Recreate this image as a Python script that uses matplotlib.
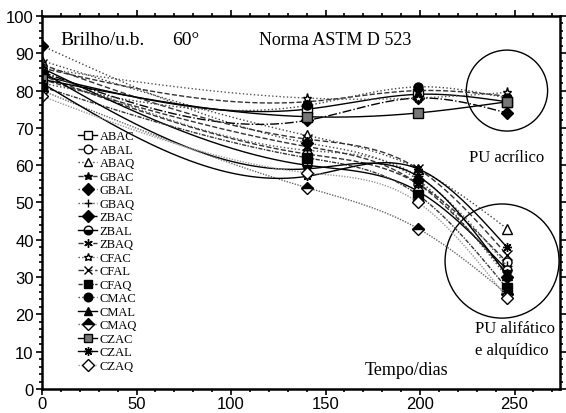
import numpy as np
import matplotlib
matplotlib.use("Agg")
import matplotlib.pyplot as plt
from matplotlib.patches import Ellipse
from matplotlib.ticker import MultipleLocator

# exposure time (days)
days = [0, 140, 199, 246]

# gloss readings (u.b. at 60 deg), one list per coating
ABAC = [84, 75, 79, 77]
ABAL = [84, 63, 55, 34]
ABAQ = [88, 68, 59, 43]
GBAC = [86, 77, 80, 78.5]
GBAL = [92, 66, 56, 30]
GBAQ = [85, 64, 57, 33]
ZBAC = [85, 72, 78, 74]
ZBAL = [86, 60, 53, 32]
ZBAQ = [83, 65, 55, 31]
CFAC = [86, 78, 78, 79.5]
CFAL = [87, 67, 59, 36]
CFAQ = [81, 62, 52, 27]
CMAC = [82, 76, 81, 78]
CMAL = [85, 59, 57, 30.5]
CMAQ = [80, 54, 43, 25.5]
CZAC = [83, 73, 74, 77]
CZAL = [82, 57, 59, 38]
CZAQ = [78.5, 58, 50, 24.5]

names = ["ABAC", "ABAL", "ABAQ", "GBAC", "GBAL", "GBAQ", "ZBAC", "ZBAL", "ZBAQ",
         "CFAC", "CFAL", "CFAQ", "CMAC", "CMAL", "CMAQ", "CZAC", "CZAL", "CZAQ"]
values = [ABAC, ABAL, ABAQ, GBAC, GBAL, GBAQ, ZBAC, ZBAL, ZBAQ,
          CFAC, CFAL, CFAQ, CMAC, CMAL, CMAQ, CZAC, CZAL, CZAQ]

# (linestyle, marker, facecolor, fillstyle, line colour)
styles = [
    ("-", "s", "white", "full", "black"),
    ("--", "o", "white", "full", "#333333"),
    (":", "^", "white", "full", "#444444"),
    ("--", "*", "black", "full", "#333333"),
    (":", "D", "black", "full", "#444444"),
    (":", "+", "black", "full", "#555555"),
    ("-.", "D", "black", "full", "black"),
    ("-", "o", "black", "bottom", "black"),
    ("--", (6, 2, 0), "black", "full", "#333333"),
    (":", "*", "white", "full", "#555555"),
    ((0, (4, 2)), "x", "black", "full", "#333333"),
    ((0, (3, 1, 1, 1)), "s", "black", "full", "#333333"),
    (":", "o", "black", "full", "#444444"),
    ("-", "^", "black", "full", "black"),
    ((0, (1, 1)), "D", "black", "top", "#666666"),
    ("-", "s", "#777777", "full", "black"),
    ("-", (8, 2, 0), "black", "full", "black"),
    ((0, (1, 1)), "D", "white", "full", "#999999"),
]


def natural_spline(x, y, xs):
    # natural cubic spline through the points, like the original software draws
    x = np.asarray(x, float)
    y = np.asarray(y, float)
    n = len(x)
    h = np.diff(x)
    A = np.zeros((n, n))
    r = np.zeros(n)
    A[0, 0] = A[-1, -1] = 1
    for i in range(1, n - 1):
        A[i, i - 1] = h[i - 1]
        A[i, i] = 2 * (h[i - 1] + h[i])
        A[i, i + 1] = h[i]
        r[i] = 6 * ((y[i + 1] - y[i]) / h[i] - (y[i] - y[i - 1]) / h[i - 1])
    m = np.linalg.solve(A, r)
    k = np.clip(np.searchsorted(x, xs) - 1, 0, n - 2)
    t0 = x[k + 1] - xs
    t1 = xs - x[k]
    hk = h[k]
    return (m[k] * t0 ** 3 / (6 * hk) + m[k + 1] * t1 ** 3 / (6 * hk)
            + (y[k] / hk - m[k] * hk / 6) * t0 + (y[k + 1] / hk - m[k + 1] * hk / 6) * t1)


plt.rcParams["font.family"] = ["Liberation Serif", "DejaVu Serif"]

fig = plt.figure(figsize=(5.66, 4.14), dpi=100)
ax = fig.add_axes([0.0742, 0.058, 0.915, 0.901])

xs = np.linspace(0, 246, 250)
for name, v, st in zip(names, values, styles):
    ls, mk, fc, fs, col = st
    ax.plot(xs, natural_spline(days, v, xs), ls=ls, color=col, lw=1.0)
    ax.plot(days, v, ls="none", marker=mk, ms=6.5, mfc=fc, mec="black",
            mew=1.0, fillstyle=fs, markerfacecoloralt="white", color="black")
    ax.plot([], [], ls=ls, color=col, lw=1.0, marker=mk, ms=6.5, mfc=fc,
            mec="black", fillstyle=fs, markerfacecoloralt="white", label=name)

ax.add_patch(Ellipse((246, 80), 43, 21.7, fill=False, lw=1.0, color="black"))
ax.add_patch(Ellipse((243.4, 34.3), 60.3, 30.6, fill=False, lw=1.0, color="black"))

ax.text(9.5, 93.8, "Brilho/u.b.", fontsize=14, va="center")
ax.text(69, 93.8, "60°", fontsize=14, va="center")
ax.text(155, 93.8, "Norma ASTM D 523", fontsize=13, va="center", ha="center")
ax.text(246, 62.2, "PU acrílico", fontsize=12, va="center", ha="center")
ax.text(229, 16.4, "PU alifático", fontsize=12, va="center", ha="left")
ax.text(229, 10.4, "e alquídico", fontsize=12, va="center", ha="left")
ax.text(193, 5.2, "Tempo/dias", fontsize=13, va="center", ha="center")

ax.set_xlim(0, 274)
ax.set_ylim(0, 100)
ax.xaxis.set_major_locator(MultipleLocator(50))
ax.xaxis.set_minor_locator(MultipleLocator(10))
ax.yaxis.set_major_locator(MultipleLocator(10))
ax.yaxis.set_minor_locator(MultipleLocator(2))
for s in ax.spines.values():
    s.set_linewidth(1.8)
ax.tick_params(which="both", direction="out", top=True, right=True, width=1.2)
ax.tick_params(which="major", length=4)
ax.tick_params(which="minor", length=2.5)
ax.tick_params(axis="x", pad=1)
ax.tick_params(axis="y", pad=2)
for lab in ax.get_xticklabels() + ax.get_yticklabels():
    lab.set_family(["Liberation Sans", "DejaVu Sans"])
    lab.set_fontsize(12)

ax.legend(loc="upper left", bbox_to_anchor=(0.058, 0.71), frameon=False,
          fontsize=9, labelspacing=0.12, handlelength=1.5, handletextpad=0.2,
          borderpad=0.0, markerscale=0.95)

fig.savefig("out.png", dpi=100)
